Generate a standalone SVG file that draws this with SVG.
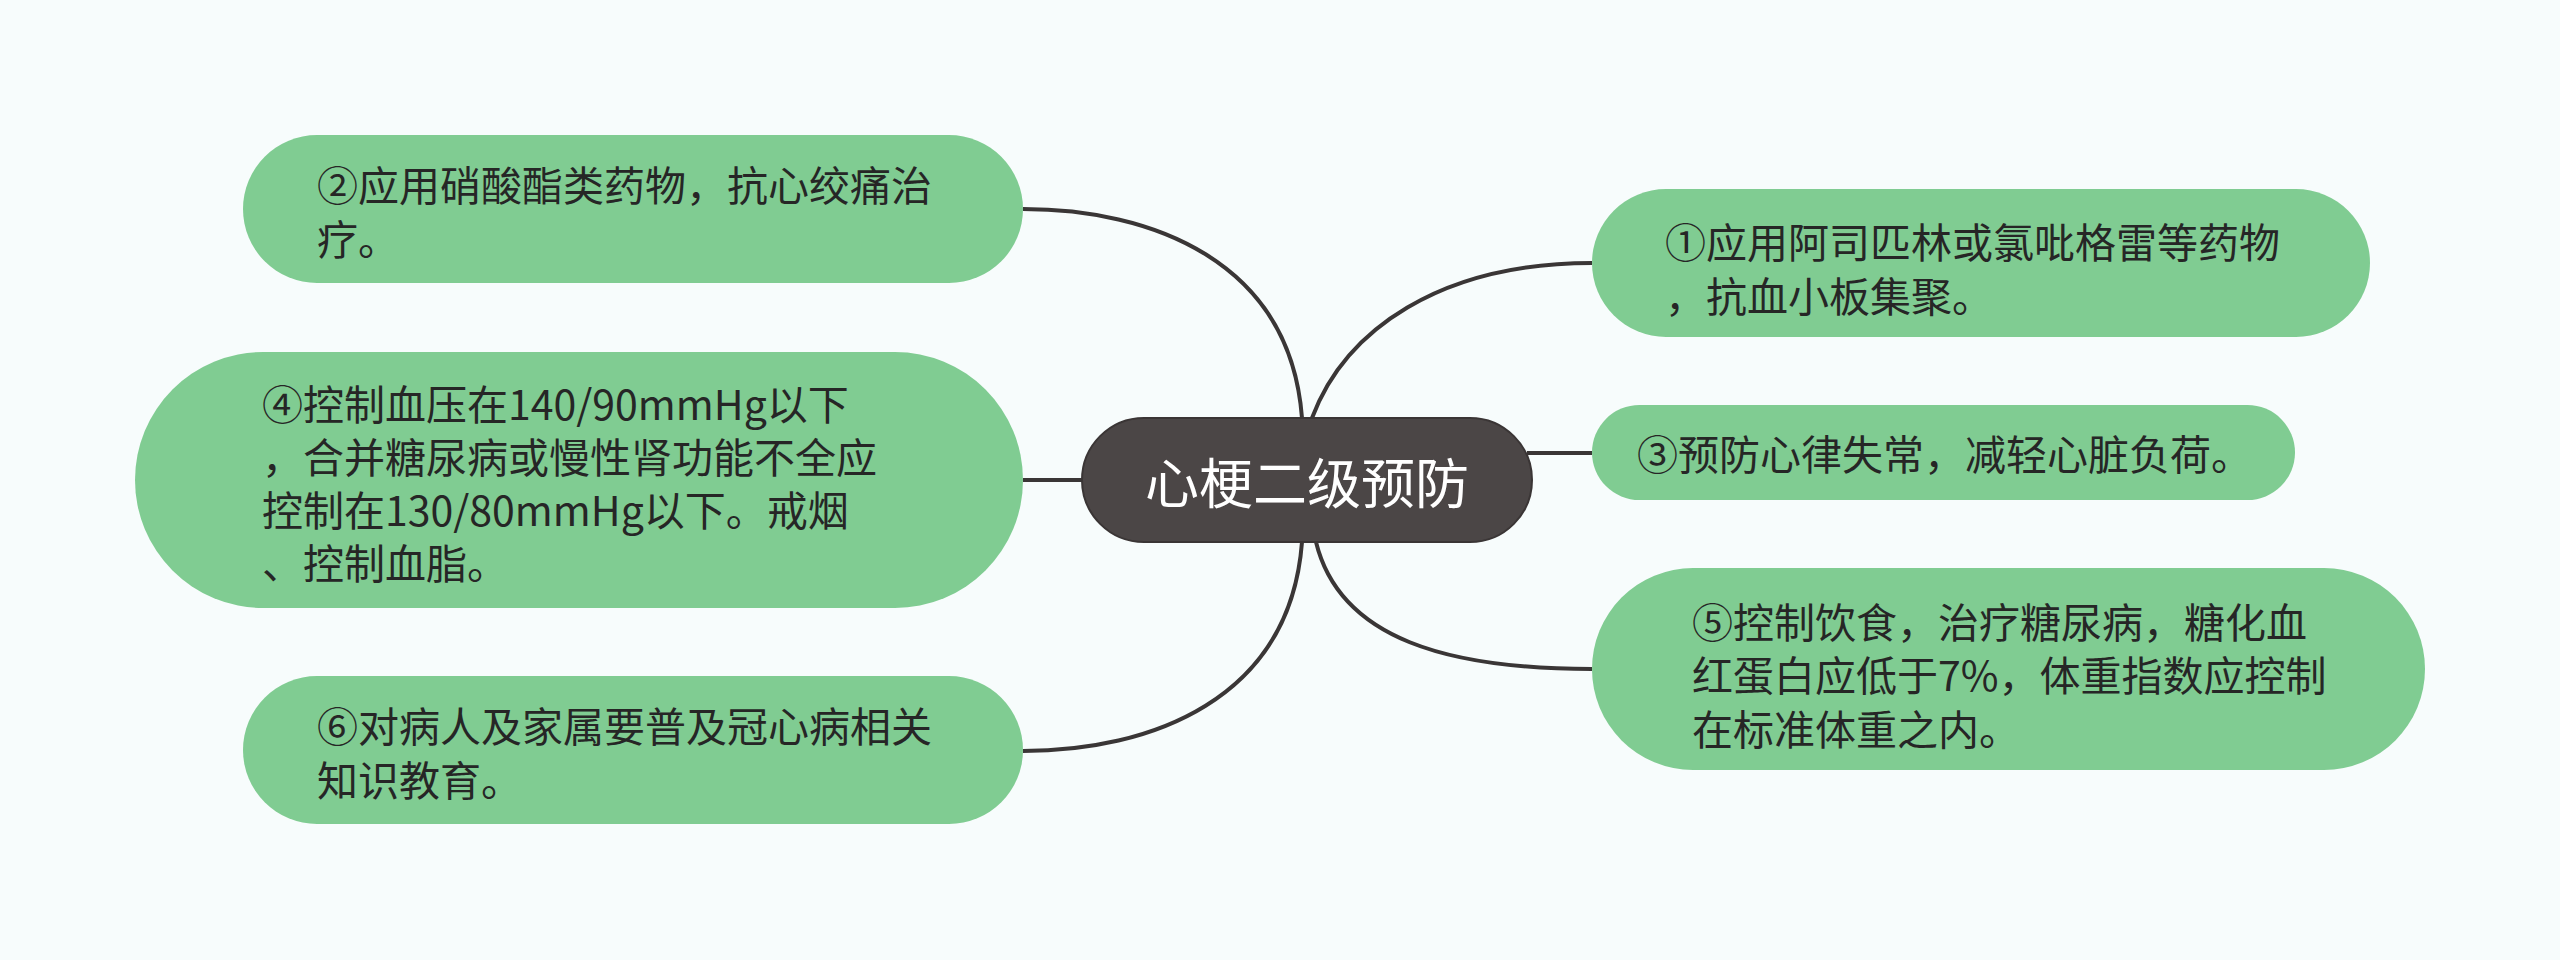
<svg xmlns="http://www.w3.org/2000/svg" width="2560" height="960" viewBox="0 0 2560 960">
  <style>
    .bg { fill: #f7fcfc; }
    .leaf rect { fill: #80cc92; }
    .leaf text { font-family: "Noto Sans CJK SC", "Noto Sans", sans-serif; font-size: 41px; fill: #262626; dominant-baseline: central; }
    .root rect { fill: #4b4646; stroke: #3a3535; stroke-width: 2; }
    .root text { font-family: "Noto Sans CJK SC", "Noto Sans", sans-serif; font-size: 54px; fill: #ffffff; text-anchor: middle; dominant-baseline: central; }
    .conn path { fill: none; stroke: #3a3636; stroke-width: 4; }
  </style>
  <rect class="bg" x="0" y="0" width="2560" height="960"/>
  <g id="connectors" class="conn">
    <path d="M1302,418 C1290,260 1150,209 1023,209"/>
    <path d="M1082,480 L1023,480"/>
    <path d="M1302,542 C1290,700 1150,751 1023,751"/>
    <path d="M1312,418 C1345,330 1440,263 1592,263"/>
    <path d="M1527,453 L1592,453"/>
    <path d="M1316,542 C1340,640 1450,669 1592,669"/>
  </g>
  <g id="root" class="root">
    <rect x="1082" y="418" width="450" height="124" rx="62"/>
    <text x="1307" y="480">心梗二级预防</text>
  </g>
  <g id="node2" class="leaf">
    <rect x="243" y="135" width="780" height="148" rx="74"/>
    <text x="317" y="183">②应用硝酸酯类药物，抗心绞痛治</text>
    <text x="317" y="237">疗。</text>
  </g>
  <g id="node4" class="leaf">
    <rect x="135" y="352" width="888" height="256" rx="128"/>
    <text x="262" y="402">④控制血压在140/90mmHg以下</text>
    <text x="262" y="455">，合并糖尿病或慢性肾功能不全应</text>
    <text x="262" y="508">控制在130/80mmHg以下。戒烟</text>
    <text x="262" y="561">、控制血脂。</text>
  </g>
  <g id="node6" class="leaf">
    <rect x="243" y="676" width="780" height="148" rx="74"/>
    <text x="317" y="724">⑥对病人及家属要普及冠心病相关</text>
    <text x="317" y="778">知识教育。</text>
  </g>
  <g id="node1" class="leaf">
    <rect x="1592" y="189" width="778" height="148" rx="74"/>
    <text x="1665" y="240">①应用阿司匹林或氯吡格雷等药物</text>
    <text x="1665" y="294">，抗血小板集聚。</text>
  </g>
  <g id="node3" class="leaf">
    <rect x="1592" y="405" width="703" height="95" rx="47.5"/>
    <text x="1637" y="452">③预防心律失常，减轻心脏负荷。</text>
  </g>
  <g id="node5" class="leaf">
    <rect x="1592" y="568" width="833" height="202" rx="101"/>
    <text x="1692" y="620">⑤控制饮食，治疗糖尿病，糖化血</text>
    <text x="1692" y="673">红蛋白应低于7%，体重指数应控制</text>
    <text x="1692" y="727">在标准体重之内。</text>
  </g>
</svg>
